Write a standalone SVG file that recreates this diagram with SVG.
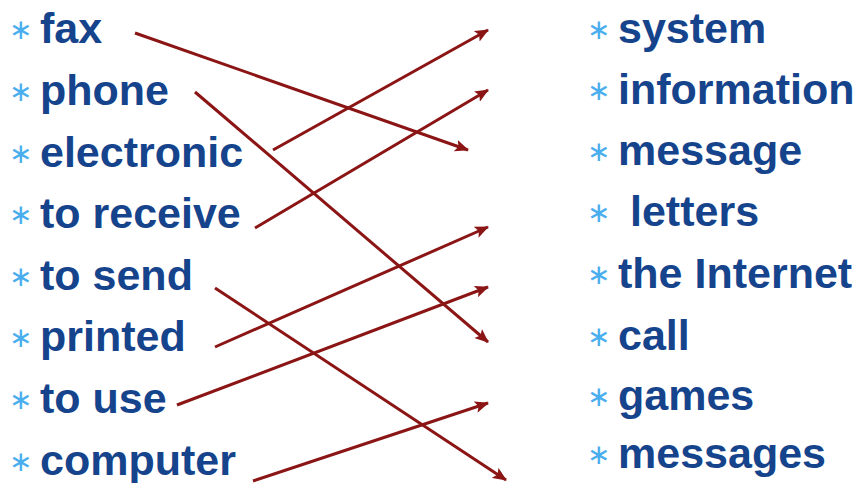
<svg xmlns="http://www.w3.org/2000/svg" width="861" height="483" viewBox="0 0 861 483">
<style>
.w{font-family:"Liberation Sans",Arial,sans-serif;font-weight:bold;font-size:43px;fill:#15448C}
.b{font-family:"DejaVu Sans",sans-serif;font-size:28px;fill:#4AAEEE}
.c line{stroke:#8B1515;stroke-width:3;marker-end:url(#ah)}
</style>
<defs>
<marker id="ah" markerUnits="userSpaceOnUse" markerWidth="16" markerHeight="12" refX="13" refY="6" orient="auto">
<path d="M0,0 L14,6 L0,12 L3,6 Z" fill="#8B1515"/>
</marker>
</defs>
<rect width="861" height="483" fill="#fff"/>
<g id="l1"><text class="b" x="9" y="39">∗</text><text class="w" x="40" y="43">fax</text></g>
<g id="l2"><text class="b" x="9" y="101">∗</text><text class="w" x="40" y="105">phone</text></g>
<g id="l3"><text class="b" x="9" y="163">∗</text><text class="w" x="40" y="167">electronic</text></g>
<g id="l4"><text class="b" x="9" y="224">∗</text><text class="w" x="40" y="228">to receive</text></g>
<g id="l5"><text class="b" x="9" y="286">∗</text><text class="w" x="40" y="290">to send</text></g>
<g id="l6"><text class="b" x="9" y="347">∗</text><text class="w" x="40" y="351">printed</text></g>
<g id="l7"><text class="b" x="9" y="409">∗</text><text class="w" x="40" y="413">to use</text></g>
<g id="l8"><text class="b" x="9" y="471">∗</text><text class="w" x="40" y="475">computer</text></g>
<g id="r1"><text class="b" x="587" y="39">∗</text><text class="w" x="618" y="43">system</text></g>
<g id="r2"><text class="b" x="587" y="100">∗</text><text class="w" x="618" y="104">information</text></g>
<g id="r3"><text class="b" x="587" y="161">∗</text><text class="w" x="618" y="165">message</text></g>
<g id="r4"><text class="b" x="587" y="222">∗</text><text class="w" x="630" y="226">letters</text></g>
<g id="r5"><text class="b" x="587" y="284">∗</text><text class="w" x="618" y="288">the Internet</text></g>
<g id="r6"><text class="b" x="587" y="346">∗</text><text class="w" x="618" y="350">call</text></g>
<g id="r7"><text class="b" x="587" y="406">∗</text><text class="w" x="618" y="410">games</text></g>
<g id="r8"><text class="b" x="587" y="464">∗</text><text class="w" x="618" y="468">messages</text></g>
<g id="connectors" class="c">
<line x1="135" y1="33" x2="468" y2="150"/>
<line x1="195" y1="92" x2="488" y2="342"/>
<line x1="273" y1="150" x2="488" y2="30"/>
<line x1="255" y1="228" x2="488" y2="90"/>
<line x1="215" y1="288" x2="506" y2="480"/>
<line x1="215" y1="347" x2="488" y2="227"/>
<line x1="177" y1="405" x2="488" y2="287"/>
<line x1="253" y1="481" x2="488" y2="403"/>
</g>
</svg>
